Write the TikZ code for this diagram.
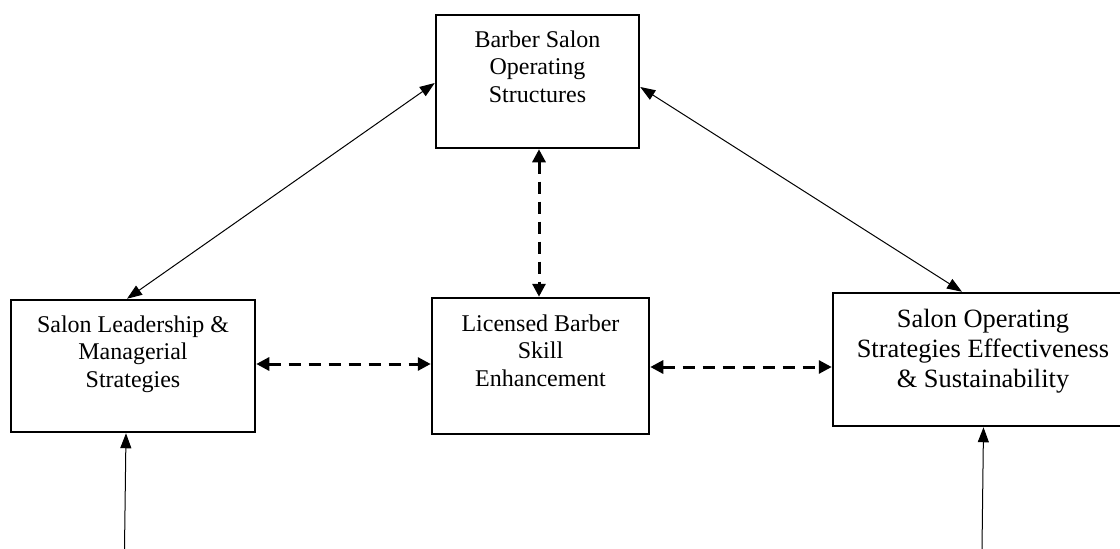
\documentclass[tikz,border=0pt]{standalone}
\usepackage{fontspec}
\setmainfont{Liberation Serif}
\usetikzlibrary{arrows.meta}
\begin{document}
\begin{tikzpicture}[x=1pt,y=-1pt,
  box/.style={draw, line width=2.5pt, inner sep=0pt},
  txt/.style={align=center, inner sep=0pt, anchor=north, font=\fontsize{24}{27.5}\selectfont},
  bigtxt/.style={txt, font=\fontsize{26.4}{30}\selectfont},
  thinlink/.style={line width=1pt, {Triangle[length=15pt,width=11pt]}-{Triangle[length=15pt,width=11pt]}},
  thinin/.style={line width=1pt, -{Triangle[length=15pt,width=11pt]}},
  dashlink/.style={line width=3pt, dash pattern=on 12pt off 8pt, {Triangle[length=13pt,width=13pt]}-{Triangle[length=13pt,width=13pt]}}
]
\useasboundingbox (0,0) rectangle (1120,549);

% boxes
\node[box, minimum width=203pt, minimum height=133pt] (bso) at (537.5,81.5) {};
\node[box, minimum width=244pt, minimum height=132pt] (lsm) at (133,366) {};
\node[box, minimum width=217pt, minimum height=136pt] (lbs) at (540.5,366) {};
\node[box, minimum width=300pt, minimum height=133pt] (sos) at (983,359.5) {};

% box texts
\node[txt] (bsoT) at ([yshift=-16.5pt]bso.north) {Barber Salon\\Operating\\Structures};
\node[txt] (lsmT) at ([yshift=-16.5pt]lsm.north) {Salon Leadership \&\\Managerial\\Strategies};
\node[txt] (lbsT) at ([yshift=-17.5pt]lbs.north) {Licensed Barber\\Skill\\Enhancement};
\node[bigtxt] (sosT) at ([yshift=-17pt]sos.north) {Salon Operating\\Strategies Effectiveness\\\& Sustainability};

% loose ends of the incoming arrows
\coordinate (inL) at (124.5,549);
\coordinate (inR) at (982,549);

% solid links
\draw[thinlink] ([xshift=-6pt]lsm.north) -- ([yshift=-1.5pt]bso.west);
\draw[thinlink] ([yshift=-5.5pt]bso.east) -- ([xshift=-21pt]sos.north);
\draw[thinin] (inL) -- ([xshift=-7pt]lsm.south);
\draw[thinin] (inR) -- ([xshift=0.5pt]sos.south);

% dashed links
\draw[dashlink] ([xshift=1.5pt]bso.south) -- ([xshift=-1.5pt]lbs.north);
\draw[dashlink] ([yshift=2pt]lsm.east) -- ([yshift=2pt]lbs.west);
\draw[dashlink] ([yshift=-1pt]lbs.east) -- ([yshift=-7.5pt]sos.west);
\end{tikzpicture}
\end{document}
